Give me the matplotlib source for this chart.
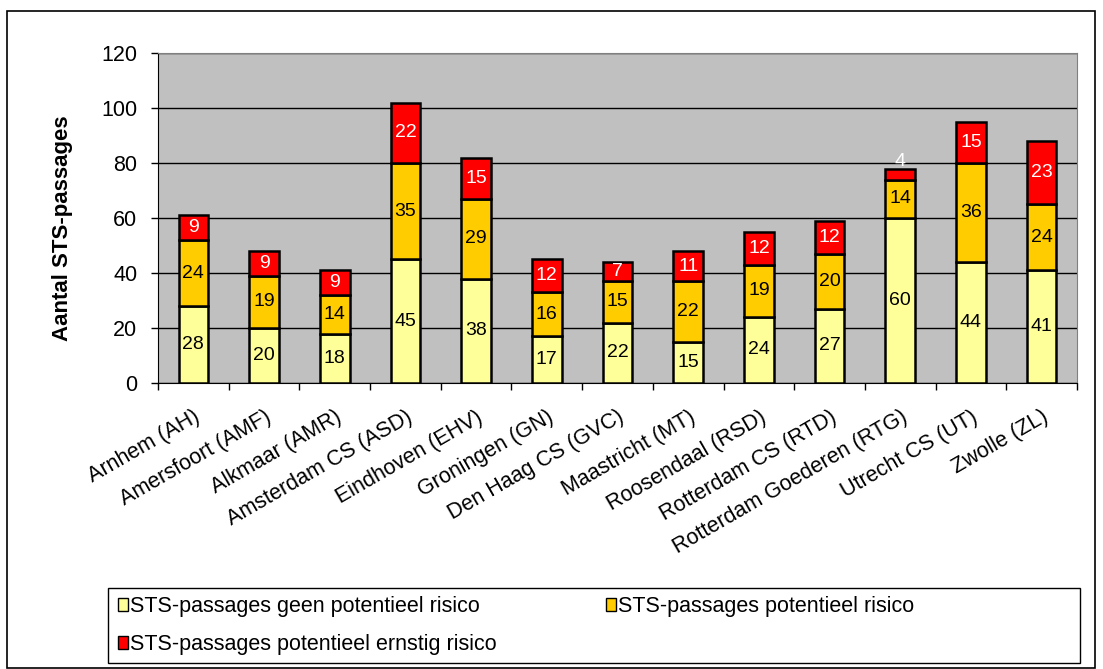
import matplotlib
matplotlib.use("Agg")
import matplotlib.pyplot as plt
from matplotlib.patches import Patch, Rectangle
import numpy as np

plt.rcParams['font.family'] = ['Liberation Sans', 'DejaVu Sans']

categories = ["Arnhem (AH)", "Amersfoort (AMF)", "Alkmaar (AMR)", "Amsterdam CS (ASD)",
              "Eindhoven (EHV)", "Groningen (GN)", "Den Haag CS (GVC)", "Maastricht (MT)",
              "Roosendaal (RSD)", "Rotterdam CS (RTD)", "Rotterdam Goederen (RTG)",
              "Utrecht CS (UT)", "Zwolle (ZL)"]
geen = [28, 20, 18, 45, 38, 17, 22, 15, 24, 27, 60, 44, 41]
potentieel = [24, 19, 14, 35, 29, 16, 15, 22, 19, 20, 14, 36, 24]
ernstig = [9, 9, 9, 22, 15, 12, 7, 11, 12, 12, 4, 15, 23]
series_names = ["STS-passages geen potentieel risico",
                "STS-passages potentieel risico",
                "STS-passages potentieel ernstig risico"]
colors = ["#FFFF99", "#FFCC00", "#FF0000"]
text_colors = ["black", "black", "white"]

W, H = 1103, 669
fig = plt.figure(figsize=(W / 100, H / 100), dpi=100)
ax = fig.add_axes([158 / W, 1 - 383 / H, (1077 - 158) / W, (383 - 53) / H])
ax.set_facecolor("#C0C0C0")

x = np.arange(len(categories))
bottom = np.zeros(len(categories))
for vals, col, tcol in zip([geen, potentieel, ernstig], colors, text_colors):
    vals = np.array(vals, dtype=float)
    ax.bar(x, vals, 0.42, bottom=bottom, color=col, edgecolor="black",
           linewidth=1.8, zorder=3)
    for xi, b, v in zip(x, bottom, vals):
        y = b + v / 2
        if v < 6:
            y = b + v + 2.6
        ax.text(xi, y, f"{int(v)}", ha="center", va="center", fontsize=14,
                color=tcol, zorder=4)
    bottom += vals

ax.set_ylim(0, 120)
ax.set_xlim(-0.5, len(categories) - 0.5)
ax.set_yticks(range(0, 121, 20))
ax.yaxis.grid(True, color="black", linewidth=1, zorder=1)
ax.set_axisbelow(True)
ax.tick_params(axis="y", labelsize=15.5, length=5, width=1, direction="out", pad=10)

ax.set_xticks(x)
ax.set_xticklabels(categories, rotation=30, ha="right", rotation_mode="anchor", fontsize=15.5)
ax.tick_params(axis="x", which="major", length=0, pad=17)
ax.set_xticks(np.arange(-0.5, len(categories), 1), minor=True)
ax.tick_params(axis="x", which="minor", length=5, width=1, direction="out")

for s in ["top", "right"]:
    ax.spines[s].set_color("#808080")
for s in ["left", "bottom"]:
    ax.spines[s].set_color("black")

ax.set_ylabel("Aantal STS-passages", fontsize=16, fontweight="bold")
ax.yaxis.set_label_coords(-0.092, 0.47)

handles = [Patch(facecolor=c, edgecolor="black", linewidth=1) for c in colors]
common = dict(loc="upper left", fontsize=15.5, frameon=False, handlelength=0.45,
              handleheight=0.6, handletextpad=0.12, borderaxespad=0, borderpad=0,
              labelspacing=0.8)
leg1 = fig.legend([handles[0], handles[2]], [series_names[0], series_names[2]],
                  bbox_to_anchor=(118 / W, 1 - 596 / H), **common)
leg2 = fig.legend([handles[1]], [series_names[1]],
                  bbox_to_anchor=(606 / W, 1 - 596 / H), **common)

fig.patches.append(Rectangle((108 / W, 1 - 663 / H), (1080 - 108) / W, (663 - 588) / H,
                             transform=fig.transFigure, fill=False,
                             edgecolor="black", linewidth=1))
fig.patches.append(Rectangle((7 / W, 1 / H), (1095 - 7) / W, (668 - 10) / H - 1 / H,
                             transform=fig.transFigure, fill=False,
                             edgecolor="black", linewidth=1.2))

fig.savefig("out.png", dpi=100)
